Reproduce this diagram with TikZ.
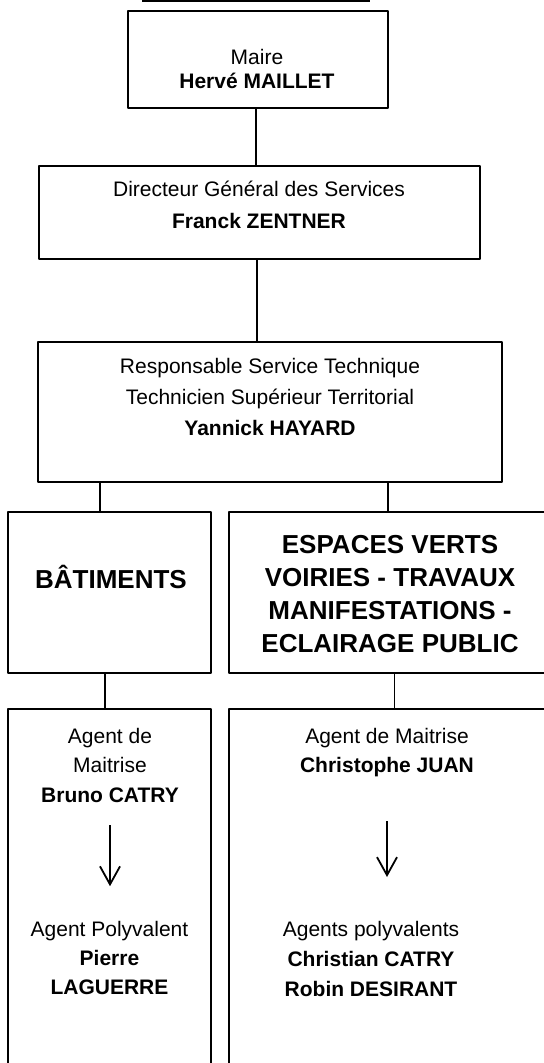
\documentclass[tikz,border=0pt]{standalone}
\usepackage{fontspec}
\setmainfont{Liberation Sans}
\usetikzlibrary{arrows.meta}
\begin{document}
\begin{tikzpicture}[x=0.5pt,y=-0.5pt,line join=round,
  box/.style={draw,line width=1pt,inner sep=0pt},
  txt/.style={align=center,inner sep=0pt,anchor=north},
  link/.style={line width=0.9pt},
  >={Straight Barb[length=9pt,width=10pt]}]
 \useasboundingbox (0,0) rectangle (544,1063);
 \clip (0,0) rectangle (544,1063);
 \draw[line width=1pt] (142,1)--(370,1); % trait du titre
 % les cadres
 \node[box,minimum width=130pt,minimum height=48.5pt] (maire) at (258,59.5) {};
 \node[box,minimum width=220.5pt,minimum height=46.5pt] (dgs) at (259.5,212.5) {};
 \node[box,minimum width=232pt,minimum height=70pt] (resp) at (270,412) {};
 \node[box,minimum width=101.5pt,minimum height=80.5pt] (bat) at (109.5,592.5) {};
 \node[box,minimum width=161pt,minimum height=80.5pt] (esp) at (390,592.5) {};
 \node[box,minimum width=101.5pt,minimum height=195.5pt] (agbat) at (109.5,904.5) {};
 \node[box,minimum width=161pt,minimum height=195.5pt] (agesp) at (390,904.5) {};
 % les textes
 \node[txt,font=\fontsize{10.5}{12}\selectfont] (tmaire) at (257,47.7)
   {\strut Maire\\\textbf{Hervé MAILLET}};
 \node[txt,font=\fontsize{10.5}{16}\selectfont] (tdgs) at (259,174.1)
   {\strut Directeur Général des Services\\\textbf{Franck ZENTNER}};
 \node[txt,font=\fontsize{10.5}{15.5}\selectfont] (tresp) at (270,351.8)
   {\strut Responsable Service Technique\\Technicien Supérieur Territorial\\\textbf{Yannick HAYARD}};
 \node[txt,font=\fontsize{13}{16.5}\selectfont\bfseries] (tbat) at (111,565.3) {\strut BÂTIMENTS};
 \node[txt,font=\fontsize{13}{16.5}\selectfont\bfseries] (tesp) at (390,530.3)
   {\strut ESPACES VERTS\\VOIRIES - TRAVAUX\\MANIFESTATIONS -\\ECLAIRAGE PUBLIC};
 \node[txt,font=\fontsize{10.5}{14.75}\selectfont] (chefbat) at (110,722.4)
   {\strut Agent de\\Maitrise\\\textbf{Bruno CATRY}};
 \node[txt,font=\fontsize{10.5}{14.5}\selectfont] (equipebat) at (109.5,916.2)
   {\strut Agent Polyvalent\\\textbf{Pierre}\\\textbf{LAGUERRE}};
 \node[txt,font=\fontsize{10.5}{14.75}\selectfont] (chefesp) at (387,722.4)
   {\strut Agent de Maitrise\\\textbf{Christophe JUAN}};
 \node[txt,font=\fontsize{10.5}{15}\selectfont] (equipeesp) at (371,915.5)
   {\strut Agents polyvalents\\\textbf{Christian CATRY}\\\textbf{Robin DESIRANT}};
 % les liaisons
 \draw[link] ([xshift=-1pt]maire.south) -- ([xshift=-1pt]maire.south |- dgs.north);
 \draw[link] ([xshift=-1.25pt]dgs.south) -- ([xshift=-1.25pt]dgs.south |- resp.north);
 \draw[link] ([xshift=-4.75pt]bat.north) -- ([xshift=-4.75pt]bat.north |- resp.south);
 \draw[link] ([xshift=-1pt]esp.north) -- ([xshift=-1pt]esp.north |- resp.south);
 \draw[link] ([xshift=-2.25pt]bat.south) -- ([xshift=-2.25pt]bat.south |- agbat.north);
 \draw[link] ([xshift=2.25pt]esp.south) -- ([xshift=2.25pt]esp.south |- agesp.north);
 \draw[link,->,shorten <=11pt,shorten >=15pt] (chefbat.south) -- (chefbat.south |- equipebat.north);
 \draw[link,->,shorten <=21.75pt,shorten >=19.25pt] (chefesp.south) -- (chefesp.south |- equipeesp.north);
\end{tikzpicture}
\end{document}
